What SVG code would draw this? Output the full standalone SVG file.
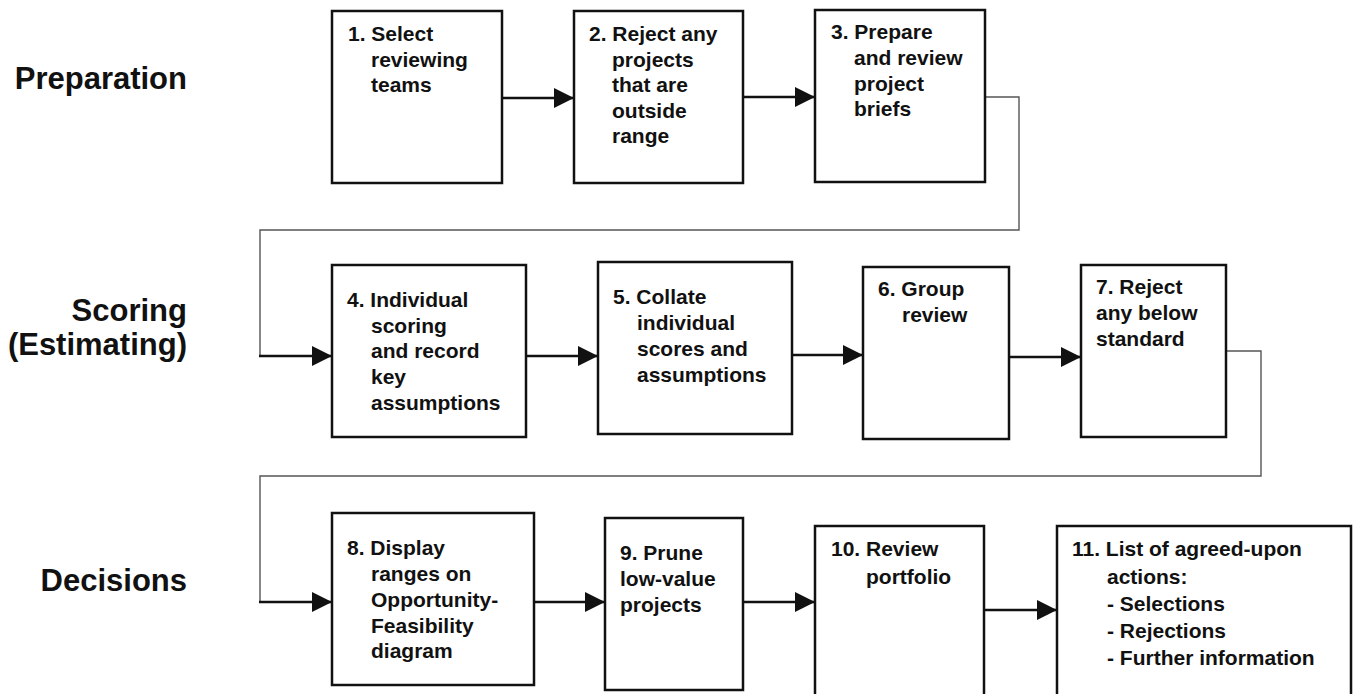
<svg xmlns="http://www.w3.org/2000/svg" width="1353" height="694" viewBox="0 0 1353 694">
<defs>
<style>
.box{fill:#fff;stroke:#111;stroke-width:2.5}
.t{font-family:"Liberation Sans",Arial,sans-serif;font-weight:bold;font-size:21px;fill:#111}
.lbl{font-family:"Liberation Sans",Arial,sans-serif;font-weight:bold;font-size:31px;fill:#111;text-anchor:end}
.arr{fill:none;stroke:#111;stroke-width:2.6;marker-end:url(#ah)}
.thin{fill:none;stroke:#555;stroke-width:1.4}
</style>
<marker id="ah" markerUnits="userSpaceOnUse" markerWidth="20" markerHeight="20" refX="20" refY="10" orient="auto">
<path d="M0,0 L20,10 L0,20 z" fill="#111"/>
</marker>
</defs>
<rect width="1353" height="694" fill="#fff"/>
<g id="labels">
<text class="lbl" x="187" y="89">Preparation</text>
<text class="lbl" x="187" y="321">Scoring</text>
<text class="lbl" x="187" y="355">(Estimating)</text>
<text class="lbl" x="187" y="591">Decisions</text>
</g>
<g id="connectors">
<path class="thin" d="M985,97 H1019 V230 H260 V356"/>
<path class="thin" d="M1226,351 H1261 V476 H260 V602"/>
<path class="arr" d="M502,98 H574"/>
<path class="arr" d="M743,97 H815"/>
<path class="arr" d="M259,356 H332"/>
<path class="arr" d="M526,356 H598"/>
<path class="arr" d="M792,355 H863"/>
<path class="arr" d="M1009,357 H1081"/>
<path class="arr" d="M259,602 H332"/>
<path class="arr" d="M534,602 H605"/>
<path class="arr" d="M743,602 H815"/>
<path class="arr" d="M984,610 H1057"/>
</g>
<g id="n1"><rect class="box" x="332" y="11" width="170" height="172"/>
<text class="t"><tspan x="348" y="41">1. Select</tspan><tspan x="371" y="66.5">reviewing</tspan><tspan x="371" y="92">teams</tspan></text></g>
<g id="n2"><rect class="box" x="574" y="11" width="169" height="172"/>
<text class="t"><tspan x="589" y="41">2. Reject any</tspan><tspan x="612" y="67">projects</tspan><tspan x="612" y="92">that are</tspan><tspan x="612" y="118">outside</tspan><tspan x="612" y="143">range</tspan></text></g>
<g id="n3"><rect class="box" x="815" y="10" width="170" height="172"/>
<text class="t"><tspan x="831" y="39">3. Prepare</tspan><tspan x="854" y="65">and review</tspan><tspan x="854" y="91">project</tspan><tspan x="854" y="116">briefs</tspan></text></g>
<g id="n4"><rect class="box" x="332" y="265" width="194" height="172"/>
<text class="t"><tspan x="347" y="307">4. Individual</tspan><tspan x="371" y="333">scoring</tspan><tspan x="371" y="358">and record</tspan><tspan x="371" y="384">key</tspan><tspan x="371" y="410">assumptions</tspan></text></g>
<g id="n5"><rect class="box" x="598" y="262" width="194" height="172"/>
<text class="t"><tspan x="613" y="304">5. Collate</tspan><tspan x="637" y="330">individual</tspan><tspan x="637" y="356">scores and</tspan><tspan x="637" y="382">assumptions</tspan></text></g>
<g id="n6"><rect class="box" x="863" y="267" width="146" height="172"/>
<text class="t"><tspan x="878" y="296">6. Group</tspan><tspan x="902" y="322">review</tspan></text></g>
<g id="n7"><rect class="box" x="1081" y="265" width="145" height="172"/>
<text class="t"><tspan x="1096" y="294">7. Reject</tspan><tspan x="1096" y="320">any below</tspan><tspan x="1096" y="346">standard</tspan></text></g>
<g id="n8"><rect class="box" x="332" y="513" width="202" height="172"/>
<text class="t"><tspan x="347" y="555">8. Display</tspan><tspan x="371" y="581">ranges on</tspan><tspan x="371" y="607">Opportunity-</tspan><tspan x="371" y="633">Feasibility</tspan><tspan x="371" y="658">diagram</tspan></text></g>
<g id="n9"><rect class="box" x="605" y="518" width="138" height="172"/>
<text class="t"><tspan x="620" y="560">9. Prune</tspan><tspan x="620" y="586">low-value</tspan><tspan x="620" y="612">projects</tspan></text></g>
<g id="n10"><rect class="box" x="815" y="526" width="169" height="180"/>
<text class="t"><tspan x="831" y="556">10. Review</tspan><tspan x="866" y="584">portfolio</tspan></text></g>
<g id="n11"><rect class="box" x="1057" y="526" width="294" height="180"/>
<text class="t"><tspan x="1072" y="556">11. List of agreed-upon</tspan><tspan x="1107" y="584">actions:</tspan><tspan x="1107" y="611">- Selections</tspan><tspan x="1107" y="638">- Rejections</tspan><tspan x="1107" y="665">- Further information</tspan></text></g>
</svg>
